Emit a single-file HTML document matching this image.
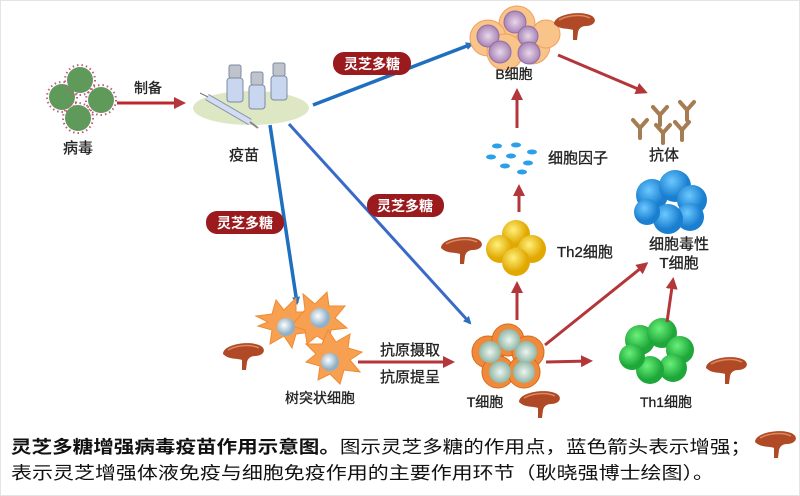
<!DOCTYPE html>
<html><head><meta charset="utf-8"><style>
html,body{margin:0;padding:0;background:#fff;}
svg{display:block;font-family:"Liberation Sans","Noto Sans CJK SC",sans-serif;}
</style></head><body>
<svg width="800" height="496" viewBox="0 0 800 496" xmlns="http://www.w3.org/2000/svg">
<defs>
<marker id="ab" markerWidth="8" markerHeight="8" refX="6" refY="4" orient="auto" markerUnits="userSpaceOnUse"><path d="M0,0 L8,4 L0,8 Z" fill="#2a6fc0"/></marker>
<marker id="ar" markerWidth="12" markerHeight="12" refX="9" refY="6" orient="auto" markerUnits="userSpaceOnUse"><path d="M0,0 L12,6 L0,12 Z" fill="#b3363a"/></marker>
<radialGradient id="gy" cx="40%" cy="35%"><stop offset="0" stop-color="#fff07a"/><stop offset="1" stop-color="#e0a800"/></radialGradient>
<radialGradient id="gg" cx="40%" cy="35%"><stop offset="0" stop-color="#6af07a"/><stop offset="1" stop-color="#1fa83a"/></radialGradient>
<radialGradient id="gb" cx="40%" cy="35%"><stop offset="0" stop-color="#6cc8ff"/><stop offset="1" stop-color="#1a7fd0"/></radialGradient>
<radialGradient id="gp" cx="50%" cy="50%"><stop offset="0" stop-color="#e8d8e8"/><stop offset="1" stop-color="#a884b8"/></radialGradient>
<radialGradient id="gt" cx="50%" cy="50%"><stop offset="0" stop-color="#eef4ee"/><stop offset="1" stop-color="#8fb8a8"/></radialGradient>
<radialGradient id="gd" cx="40%" cy="40%"><stop offset="0" stop-color="#ffffff"/><stop offset="1" stop-color="#8fb0c8"/></radialGradient>
<g id="mush"><path d="M-20,2 C-20,-8 8,-12 18,-6 C24,-2 20,4 12,4 C8,4 5,6 4,10 L3,18 L-1,18 L-1,8 C-6,6 -14,8 -20,2 Z" fill="#b04a26"/><path d="M-15,-2 C-6,-7 8,-8 16,-4" stroke="#d98a60" stroke-width="1.5" fill="none"/></g>
<g id="vir"><circle r="13" fill="#5f9a5a"/><circle r="15" fill="none" stroke="#c05a80" stroke-width="2" stroke-dasharray="1.5 3"/></g>
</defs>
<rect x="0.5" y="0.5" width="799" height="495" fill="#fff" stroke="#e4e4e4"/>

<use href="#vir" x="62" y="97"/><use href="#vir" x="80" y="80"/><use href="#vir" x="101" y="100"/><use href="#vir" x="78" y="118"/>
<text x="78" y="153" font-size="15" text-anchor="middle" fill="#222" stroke="#222" stroke-width="0.3">病毒</text>
<line x1="117" y1="103" x2="183" y2="103" stroke="#c0262d" stroke-width="3" marker-end="url(#ar)"/>
<text x="148" y="93" font-size="14" text-anchor="middle" fill="#222" stroke="#222" stroke-width="0.3">制备</text>

<ellipse cx="251" cy="108" rx="58" ry="17" fill="#dde7c4"/>
<g fill="#c8d6f0" stroke="#7d8aa0" stroke-width="1">
<rect x="227" y="78" width="16" height="24" rx="3"/><rect x="249" y="85" width="16" height="24" rx="3"/><rect x="271" y="76" width="16" height="24" rx="3"/></g>
<g fill="#bfc4cc" stroke="#7d8aa0"><rect x="229" y="65" width="12" height="13" rx="2"/><rect x="251" y="72" width="12" height="13" rx="2"/><rect x="273" y="63" width="12" height="13" rx="2"/></g>
<line x1="207" y1="97" x2="250" y2="122" stroke="#8a95a8" stroke-width="7"/><line x1="207" y1="97" x2="250" y2="122" stroke="#d2ddf5" stroke-width="5"/>
<line x1="250" y1="122" x2="258" y2="128" stroke="#888" stroke-width="2"/><line x1="200" y1="93" x2="208" y2="97" stroke="#777" stroke-width="1"/>
<text x="244" y="160" font-size="15" text-anchor="middle" fill="#222" stroke="#222" stroke-width="0.3">疫苗</text>

<line x1="313" y1="105" x2="472" y2="44" stroke="#1f6fc0" stroke-width="3.5" marker-end="url(#ab)"/>
<line x1="270" y1="125" x2="297" y2="303" stroke="#1f6fc0" stroke-width="3.5" marker-end="url(#ab)"/>
<line x1="289" y1="124" x2="470" y2="323" stroke="#3a6ac8" stroke-width="3" marker-end="url(#ab)"/>

<g font-size="14" font-weight="bold" fill="#fff" text-anchor="middle">
<rect x="333" y="52" width="78" height="23" rx="11" fill="#9a1a1e"/><text x="372" y="69">灵芝多糖</text>
<rect x="206" y="211" width="78" height="23" rx="11" fill="#9a1a1e"/><text x="245" y="228">灵芝多糖</text>
<rect x="367" y="194" width="77" height="23" rx="11" fill="#9a1a1e"/><text x="405" y="211">灵芝多糖</text>
</g>

<g fill="#f8c48a" stroke="#f0a060" stroke-width="1"><circle cx="517" cy="24" r="18"/><circle cx="488" cy="38" r="18"/><circle cx="532" cy="46" r="18"/><circle cx="505" cy="52" r="18"/><circle cx="546" cy="34" r="14"/></g>
<g fill="url(#gp)" stroke="#9070a0"><circle cx="515" cy="22" r="11"/><circle cx="488" cy="36" r="11"/><circle cx="528" cy="36" r="10"/><circle cx="500" cy="52" r="11"/><circle cx="529" cy="53" r="11"/></g>
<text x="514" y="79" font-size="14" text-anchor="middle" fill="#222" stroke="#222" stroke-width="0.3">B细胞</text>
<use href="#mush" x="574" y="22"/>

<g stroke="#a67c52" stroke-width="4" fill="none" stroke-linecap="round">
<path d="M653,107 l7,8 l7,-8 M660,115 v10"/><path d="M680,102 l7,8 l7,-8 M687,110 v10"/><path d="M633,120 l7,8 l7,-8 M640,128 v10"/><path d="M656,125 l7,8 l7,-8 M663,133 v10"/><path d="M675,122 l7,8 l7,-8 M682,130 v10"/></g>
<text x="664" y="160" font-size="15" text-anchor="middle" fill="#222" stroke="#222" stroke-width="0.3">抗体</text>
<line x1="558" y1="55" x2="645" y2="92" stroke="#b3363a" stroke-width="3" marker-end="url(#ar)"/>

<g fill="#2aa0e8"><ellipse cx="497" cy="146" rx="5" ry="2.5"/><ellipse cx="516" cy="145" rx="5" ry="2.5"/><ellipse cx="532" cy="152" rx="5" ry="2.5"/><ellipse cx="491" cy="157" rx="5" ry="2.5"/><ellipse cx="511" cy="156" rx="5" ry="2.5"/><ellipse cx="528" cy="163" rx="5" ry="2.5"/><ellipse cx="505" cy="166" rx="5" ry="2.5"/><ellipse cx="522" cy="172" rx="5" ry="2.5"/></g>
<text x="548" y="163" font-size="15" fill="#222" stroke="#222" stroke-width="0.3">细胞因子</text>
<line x1="517" y1="128" x2="517" y2="91" stroke="#b3363a" stroke-width="3" marker-end="url(#ar)"/>
<line x1="519" y1="212" x2="519" y2="187" stroke="#b3363a" stroke-width="3" marker-end="url(#ar)"/>

<g fill="url(#gy)"><circle cx="516" cy="234" r="14"/><circle cx="500" cy="249" r="14"/><circle cx="532" cy="249" r="14"/><circle cx="516" cy="262" r="14"/></g>
<text x="557" y="257" font-size="15" fill="#222" stroke="#222" stroke-width="0.3">Th2细胞</text>
<use href="#mush" x="461" y="246"/>

<g fill="url(#gb)"><circle cx="652" cy="195" r="16"/><circle cx="675" cy="186" r="16"/><circle cx="692" cy="200" r="15"/><circle cx="690" cy="217" r="14"/><circle cx="668" cy="219" r="15"/><circle cx="647" cy="212" r="13"/></g>
<text x="679" y="249" font-size="15" text-anchor="middle" fill="#222" stroke="#222" stroke-width="0.3">细胞毒性</text>
<text x="679" y="268" font-size="15" text-anchor="middle" fill="#222" stroke="#222" stroke-width="0.3">T细胞</text>

<g fill="#f08a3a" stroke="#d86a20"><circle cx="488" cy="352" r="16"/><circle cx="508" cy="340" r="16"/><circle cx="528" cy="352" r="16"/><circle cx="498" cy="372" r="16"/><circle cx="524" cy="372" r="16"/></g>
<g fill="url(#gt)"><circle cx="490" cy="352" r="11"/><circle cx="509" cy="340" r="11"/><circle cx="526" cy="352" r="11"/><circle cx="500" cy="372" r="11"/><circle cx="524" cy="372" r="11"/></g>
<text x="485" y="407" font-size="14" text-anchor="middle" fill="#222" stroke="#222" stroke-width="0.3">T细胞</text>
<use href="#mush" x="539" y="400"/>

<g fill="url(#gg)"><circle cx="640" cy="340" r="15"/><circle cx="662" cy="333" r="15"/><circle cx="680" cy="350" r="14"/><circle cx="673" cy="368" r="14"/><circle cx="650" cy="370" r="14"/><circle cx="632" cy="357" r="13"/></g>
<text x="666" y="407" font-size="14" text-anchor="middle" fill="#222" stroke="#222" stroke-width="0.3">Th1细胞</text>
<use href="#mush" x="726" y="366"/>

<line x1="517" y1="320" x2="517" y2="284" stroke="#b3363a" stroke-width="3" marker-end="url(#ar)"/>
<line x1="545" y1="345" x2="646" y2="264" stroke="#b3363a" stroke-width="3" marker-end="url(#ar)"/>
<line x1="546" y1="362" x2="590" y2="361" stroke="#b3363a" stroke-width="3" marker-end="url(#ar)"/>
<line x1="667" y1="322" x2="673" y2="280" stroke="#b3363a" stroke-width="3" marker-end="url(#ar)"/>

<g fill="#f7a052" stroke="#f08a30">
<path d="M268,322 l-12,-6 l16,-2 l4,-14 l8,10 l12,-12 l0,14 l14,0 l-10,10 l12,10 l-16,2 l-4,14 l-8,-12 l-14,8 l2,-14 l-14,-4 Z"/>
<path d="M305,310 l-2,-16 l12,10 l12,-12 l2,14 l16,0 l-10,12 l12,10 l-16,2 l-2,14 l-12,-8 l-10,8 l-2,-14 l-14,-4 Z"/>
<path d="M316,354 l-10,-10 l16,0 l6,-14 l8,12 l14,-8 l-2,14 l14,4 l-12,8 l10,12 l-16,-2 l-4,14 l-10,-10 l-12,6 l2,-14 l-14,-4 Z"/>
</g>
<g fill="url(#gd)"><circle cx="286" cy="327" r="9"/><circle cx="320" cy="318" r="10"/><circle cx="330" cy="362" r="9"/></g>
<text x="320" y="403" font-size="14" text-anchor="middle" fill="#222" stroke="#222" stroke-width="0.3">树突状细胞</text>
<use href="#mush" x="243" y="352"/>
<line x1="358" y1="362" x2="452" y2="362" stroke="#b3363a" stroke-width="3" marker-end="url(#ar)"/>
<text x="410" y="355" font-size="15" text-anchor="middle" fill="#222" stroke="#222" stroke-width="0.3">抗原摄取</text>
<text x="410" y="382" font-size="15" text-anchor="middle" fill="#222" stroke="#222" stroke-width="0.3">抗原提呈</text>

<text x="11" y="453" font-size="17.5" fill="#111" textLength="740" lengthAdjust="spacingAndGlyphs"><tspan font-weight="bold">灵芝多糖增强病毒疫苗作用示意图。</tspan>图示灵芝多糖的作用点，蓝色箭头表示增强；</text>
<use href="#mush" x="775" y="440"/>
<text x="11" y="479" font-size="17.5" fill="#111" textLength="703" lengthAdjust="spacingAndGlyphs">表示灵芝增强体液免疫与细胞免疫作用的主要作用环节（耿晓强博士绘图）。</text>
</svg>
</body></html>
